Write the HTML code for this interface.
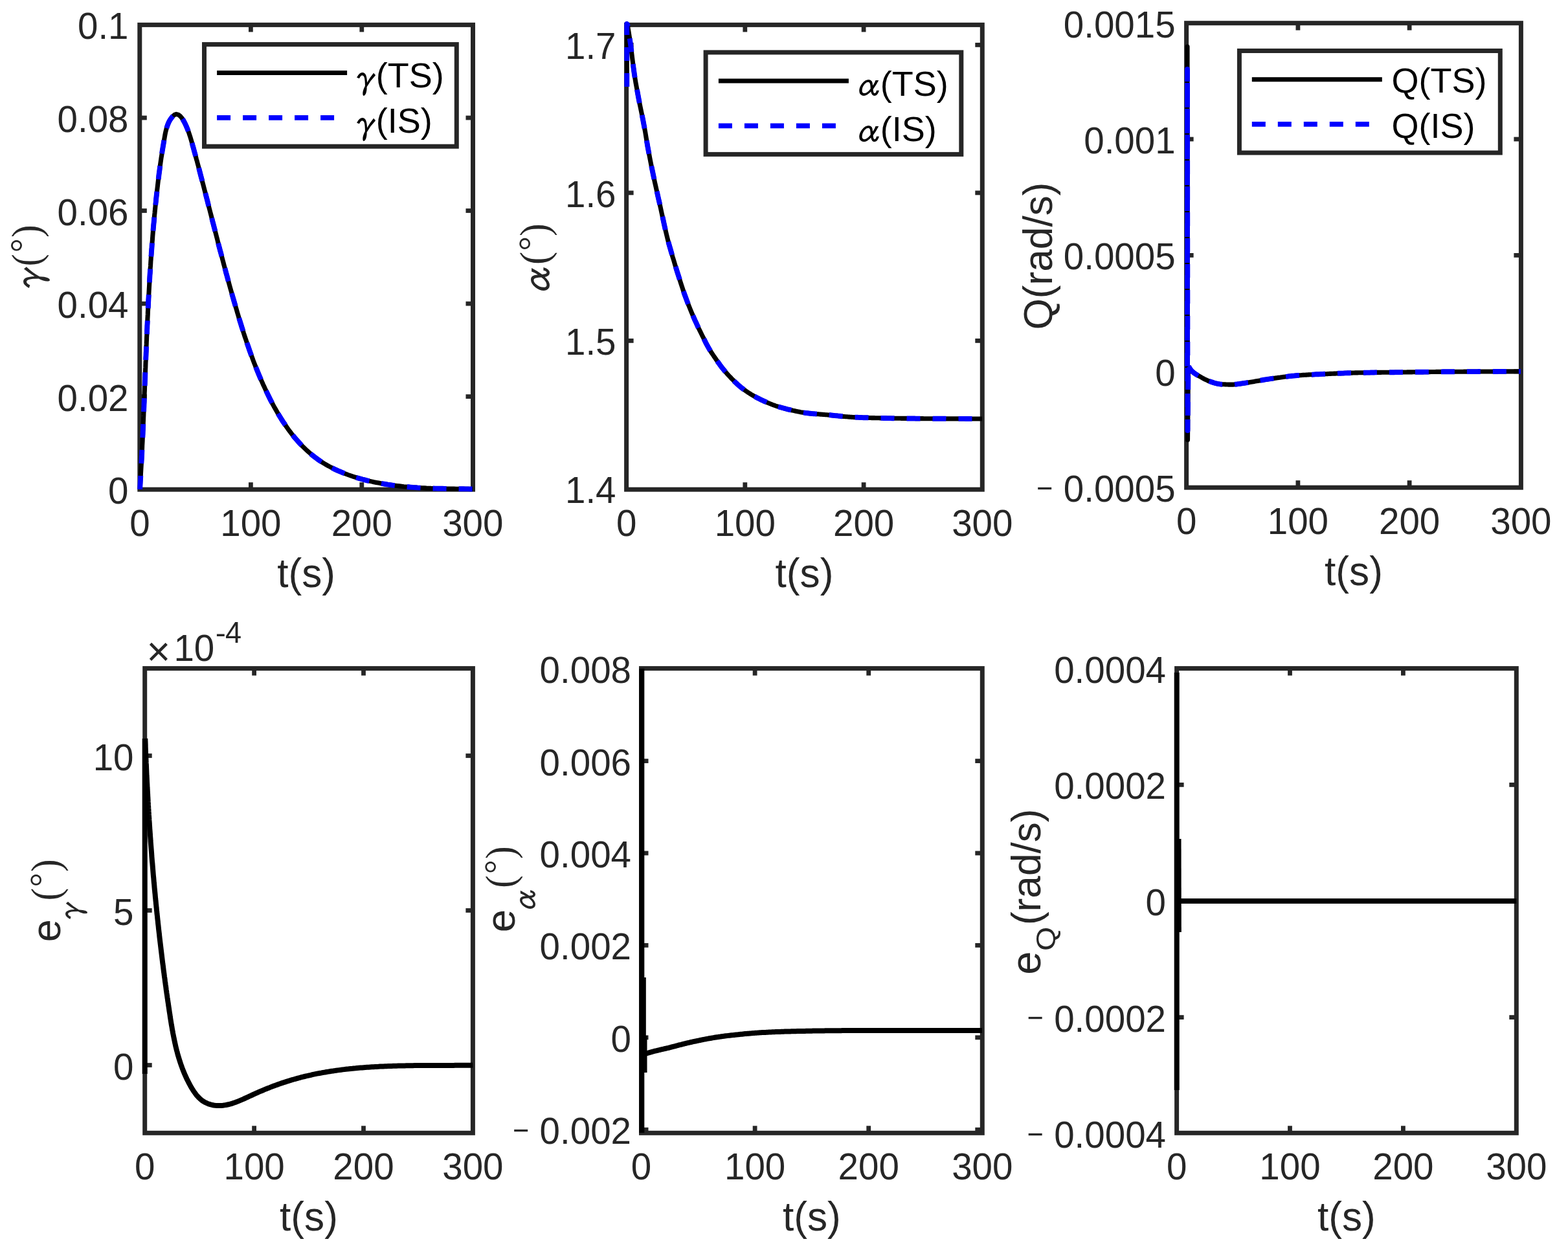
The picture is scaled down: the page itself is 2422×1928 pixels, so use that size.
<!DOCTYPE html>
<html><head><meta charset="utf-8"><title>Figure</title>
<style>html,body{margin:0;padding:0;background:#fff;}svg{display:block;}</style>
</head><body>
<svg xmlns="http://www.w3.org/2000/svg" width="2422" height="1928" viewBox="0 0 2422 1928">
<rect width="2422" height="1928" fill="#fff"/>
<rect x="215.8" y="38.4" width="514.7" height="717.8" fill="none" stroke="#262626" stroke-width="7.0"/>
<line x1="387.4" y1="756.2" x2="387.4" y2="745.2" stroke="#262626" stroke-width="6.8"/>
<line x1="387.4" y1="38.4" x2="387.4" y2="49.4" stroke="#262626" stroke-width="6.8"/>
<line x1="558.8" y1="756.2" x2="558.8" y2="745.2" stroke="#262626" stroke-width="6.8"/>
<line x1="558.8" y1="38.4" x2="558.8" y2="49.4" stroke="#262626" stroke-width="6.8"/>
<line x1="215.8" y1="612.6" x2="226.8" y2="612.6" stroke="#262626" stroke-width="6.8"/>
<line x1="730.5" y1="612.6" x2="719.5" y2="612.6" stroke="#262626" stroke-width="6.8"/>
<line x1="215.8" y1="469.1" x2="226.8" y2="469.1" stroke="#262626" stroke-width="6.8"/>
<line x1="730.5" y1="469.1" x2="719.5" y2="469.1" stroke="#262626" stroke-width="6.8"/>
<line x1="215.8" y1="325.5" x2="226.8" y2="325.5" stroke="#262626" stroke-width="6.8"/>
<line x1="730.5" y1="325.5" x2="719.5" y2="325.5" stroke="#262626" stroke-width="6.8"/>
<line x1="215.8" y1="182.0" x2="226.8" y2="182.0" stroke="#262626" stroke-width="6.8"/>
<line x1="730.5" y1="182.0" x2="719.5" y2="182.0" stroke="#262626" stroke-width="6.8"/>
<text x="198.5" y="778.2" text-anchor="end" font-size="56.5" fill="#262626" font-family="'Liberation Sans', Arial, Helvetica, sans-serif">0</text>
<text x="198.5" y="634.6" text-anchor="end" font-size="56.5" fill="#262626" font-family="'Liberation Sans', Arial, Helvetica, sans-serif">0.02</text>
<text x="198.5" y="491.1" text-anchor="end" font-size="56.5" fill="#262626" font-family="'Liberation Sans', Arial, Helvetica, sans-serif">0.04</text>
<text x="198.5" y="347.5" text-anchor="end" font-size="56.5" fill="#262626" font-family="'Liberation Sans', Arial, Helvetica, sans-serif">0.06</text>
<text x="198.5" y="204.0" text-anchor="end" font-size="56.5" fill="#262626" font-family="'Liberation Sans', Arial, Helvetica, sans-serif">0.08</text>
<text x="198.5" y="60.4" text-anchor="end" font-size="56.5" fill="#262626" font-family="'Liberation Sans', Arial, Helvetica, sans-serif">0.1</text>
<text x="215.9" y="827.9" text-anchor="middle" font-size="56.5" fill="#262626" font-family="'Liberation Sans', Arial, Helvetica, sans-serif">0</text>
<text x="387.4" y="827.9" text-anchor="middle" font-size="56.5" fill="#262626" font-family="'Liberation Sans', Arial, Helvetica, sans-serif">100</text>
<text x="558.8" y="827.9" text-anchor="middle" font-size="56.5" fill="#262626" font-family="'Liberation Sans', Arial, Helvetica, sans-serif">200</text>
<text x="730.3" y="827.9" text-anchor="middle" font-size="56.5" fill="#262626" font-family="'Liberation Sans', Arial, Helvetica, sans-serif">300</text>
<text x="473.1" y="907.3" text-anchor="middle" font-size="62.2" fill="#262626" font-family="'Liberation Sans', Arial, Helvetica, sans-serif">t(s)</text>
<path d="M216.1,756.0 L216.3,752.4 L216.5,748.9 L216.7,745.3 L216.9,741.8 L217.1,738.2 L217.3,734.7 L217.5,731.1 L217.7,727.6 L217.9,724.0 L218.1,720.5 L218.3,716.9 L218.5,713.3 L218.7,709.8 L218.9,706.2 L219.1,702.7 L219.2,699.1 L219.4,695.6 L219.6,692.0 L219.7,688.4 L219.9,684.9 L220.1,681.3 L220.2,677.8 L220.4,674.2 L220.6,670.7 L220.7,667.1 L220.9,663.5 L221.0,660.0 L221.2,656.4 L221.3,652.9 L221.5,649.3 L221.6,645.7 L221.8,642.2 L221.9,638.6 L222.1,635.0 L222.2,631.5 L222.4,627.9 L222.5,624.4 L222.7,620.8 L222.8,617.2 L222.9,613.7 L223.1,610.1 L223.2,606.6 L223.4,603.0 L223.5,599.4 L223.6,595.9 L223.8,592.3 L223.9,588.7 L224.1,585.2 L224.2,581.6 L224.3,578.0 L224.5,574.5 L224.6,570.9 L224.8,567.4 L224.9,563.8 L225.0,560.2 L225.2,556.7 L225.3,553.1 L225.5,549.5 L225.6,546.0 L225.8,542.4 L225.9,538.9 L226.0,535.3 L226.2,531.7 L226.3,528.2 L226.5,524.6 L226.6,521.0 L226.8,517.5 L227.0,513.9 L227.1,510.4 L227.3,506.8 L227.4,503.2 L227.6,499.7 L227.8,496.1 L227.9,492.6 L228.1,489.0 L228.3,485.4 L228.4,481.9 L228.6,478.3 L228.8,474.7 L229.0,471.2 L229.1,467.6 L229.3,464.1 L229.5,460.5 L229.7,457.0 L229.9,453.4 L230.1,449.8 L230.3,446.3 L230.5,442.7 L230.7,439.2 L230.9,435.6 L231.1,432.1 L231.3,428.5 L231.5,424.9 L231.8,421.4 L232.0,417.8 L232.2,414.3 L232.5,410.7 L232.7,407.2 L232.9,403.6 L233.2,400.1 L233.4,396.5 L233.7,393.0 L233.9,389.4 L234.2,385.9 L234.5,382.3 L234.7,378.8 L235.0,375.2 L235.3,371.7 L235.6,368.1 L235.8,364.6 L236.1,361.0 L236.4,357.5 L236.7,353.9 L237.0,350.4 L237.3,346.8 L237.7,343.3 L238.0,339.7 L238.3,336.2 L238.6,332.6 L239.0,329.1 L239.3,325.6 L239.7,322.0 L240.0,318.5 L240.4,314.9 L240.8,311.4 L241.1,307.9 L241.5,304.3 L241.9,300.8 L242.3,297.3 L242.7,293.7 L243.1,290.2 L243.5,286.6 L243.9,283.1 L244.3,279.6 L244.8,276.0 L245.2,272.5 L245.6,269.0 L246.1,265.4 L246.6,261.9 L247.0,258.4 L247.5,254.8 L248.0,251.3 L248.5,247.8 L249.0,244.2 L249.6,240.7 L250.1,237.2 L250.6,233.6 L251.2,230.1 L251.8,226.5 L252.4,223.0 L253.0,219.4 L253.6,215.9 L254.2,212.3 L254.8,208.8 L255.5,205.3 L256.3,201.8 L257.2,198.3 L258.3,194.9 L259.5,191.6 L260.9,188.4 L262.6,185.3 L264.6,182.4 L266.9,179.6 L269.5,177.4 L272.3,176.4 L275.3,177.1 L278.1,179.2 L280.6,181.9 L282.7,185.0 L284.5,188.2 L286.2,191.6 L287.7,194.9 L289.1,198.2 L290.4,201.6 L291.7,205.0 L292.8,208.4 L293.9,211.7 L294.9,215.1 L295.9,218.6 L296.9,222.0 L297.8,225.4 L298.8,228.8 L299.7,232.2 L300.6,235.6 L301.6,239.1 L302.5,242.5 L303.4,245.9 L304.4,249.3 L305.3,252.8 L306.2,256.2 L307.1,259.6 L308.0,263.1 L308.9,266.5 L309.8,269.9 L310.7,273.4 L311.6,276.8 L312.5,280.3 L313.4,283.7 L314.3,287.2 L315.2,290.6 L316.1,294.1 L317.0,297.5 L317.9,300.9 L318.8,304.4 L319.7,307.8 L320.6,311.3 L321.4,314.7 L322.3,318.2 L323.2,321.7 L324.1,325.1 L325.0,328.6 L325.9,332.0 L326.8,335.5 L327.6,338.9 L328.5,342.4 L329.4,345.8 L330.3,349.3 L331.2,352.7 L332.1,356.2 L333.0,359.7 L333.9,363.1 L334.8,366.6 L335.7,370.0 L336.5,373.5 L337.4,376.9 L338.3,380.4 L339.2,383.8 L340.1,387.3 L341.1,390.7 L342.0,394.2 L342.9,397.6 L343.8,401.1 L344.7,404.5 L345.6,408.0 L346.5,411.4 L347.5,414.9 L348.4,418.3 L349.3,421.8 L350.3,425.2 L351.2,428.6 L352.1,432.1 L353.1,435.5 L354.0,438.9 L355.0,442.4 L355.9,445.8 L356.9,449.2 L357.9,452.7 L358.8,456.1 L359.8,459.5 L360.8,462.9 L361.8,466.4 L362.8,469.8 L363.8,473.2 L364.8,476.6 L365.8,480.0 L366.8,483.4 L367.8,486.8 L368.8,490.2 L369.9,493.7 L370.9,497.1 L372.0,500.4 L373.0,503.8 L374.1,507.2 L375.2,510.6 L376.2,514.0 L377.3,517.4 L378.4,520.8 L379.6,524.1 L380.7,527.5 L381.8,530.9 L383.0,534.2 L384.2,537.6 L385.3,540.9 L386.5,544.3 L387.7,547.6 L389.0,551.0 L390.2,554.3 L391.4,557.6 L392.7,561.0 L394.0,564.3 L395.3,567.6 L396.6,570.9 L398.0,574.2 L399.3,577.5 L400.7,580.8 L402.1,584.1 L403.5,587.3 L405.0,590.6 L406.4,593.9 L407.9,597.1 L409.4,600.4 L410.9,603.6 L412.5,606.9 L414.0,610.1 L415.6,613.3 L417.2,616.6 L418.9,619.8 L420.5,623.0 L422.2,626.1 L423.9,629.3 L425.7,632.4 L427.5,635.6 L429.3,638.7 L431.1,641.7 L433.0,644.8 L434.9,647.8 L436.8,650.9 L438.8,653.8 L440.8,656.8 L442.8,659.7 L444.8,662.6 L446.9,665.5 L449.1,668.3 L451.2,671.1 L453.4,673.9 L455.7,676.6 L458.0,679.3 L460.3,681.9 L462.7,684.5 L465.1,687.1 L467.5,689.6 L470.0,692.1 L472.5,694.5 L475.1,696.9 L477.7,699.2 L480.3,701.4 L483.1,703.7 L485.8,705.8 L488.6,707.9 L491.4,710.0 L494.3,712.0 L497.3,713.9 L500.2,715.8 L503.3,717.6 L506.3,719.3 L509.4,721.0 L512.6,722.7 L515.8,724.3 L519.0,725.8 L522.3,727.3 L525.6,728.7 L528.9,730.1 L532.2,731.5 L535.6,732.7 L539.0,734.0 L542.4,735.2 L545.9,736.3 L549.3,737.4 L552.8,738.5 L556.3,739.5 L559.8,740.5 L563.4,741.4 L566.9,742.3 L570.5,743.1 L574.0,743.9 L577.6,744.7 L581.2,745.4 L584.8,746.1 L588.3,746.8 L591.9,747.4 L595.5,748.0 L599.1,748.6 L602.6,749.1 L606.2,749.6 L609.7,750.1 L613.3,750.5 L616.8,750.9 L620.3,751.3 L623.8,751.7 L627.3,752.0 L630.8,752.3 L634.3,752.6 L637.8,752.9 L641.3,753.1 L644.8,753.4 L648.3,753.6 L651.8,753.8 L655.3,753.9 L658.7,754.1 L662.2,754.2 L665.7,754.4 L669.2,754.5 L672.7,754.6 L676.2,754.7 L679.7,754.8 L683.3,754.8 L686.8,754.9 L690.3,755.0 L693.9,755.0 L697.5,755.1 L701.0,755.1 L704.6,755.2 L708.2,755.2 L711.8,755.3 L715.5,755.3 L719.1,755.4 L722.8,755.4 L726.5,755.5 L730.2,755.5" fill="none" stroke="#000" stroke-width="7.1" stroke-linejoin="round"/>
<path d="M216.1,756.0 L216.3,752.4 L216.5,748.9 L216.7,745.3 L216.9,741.8 L217.1,738.2 L217.3,734.7 L217.5,731.1 L217.7,727.6 L217.9,724.0 L218.1,720.5 L218.3,716.9 L218.5,713.3 L218.7,709.8 L218.9,706.2 L219.1,702.7 L219.2,699.1 L219.4,695.6 L219.6,692.0 L219.7,688.4 L219.9,684.9 L220.1,681.3 L220.2,677.8 L220.4,674.2 L220.6,670.7 L220.7,667.1 L220.9,663.5 L221.0,660.0 L221.2,656.4 L221.3,652.9 L221.5,649.3 L221.6,645.7 L221.8,642.2 L221.9,638.6 L222.1,635.0 L222.2,631.5 L222.4,627.9 L222.5,624.4 L222.7,620.8 L222.8,617.2 L222.9,613.7 L223.1,610.1 L223.2,606.6 L223.4,603.0 L223.5,599.4 L223.6,595.9 L223.8,592.3 L223.9,588.7 L224.1,585.2 L224.2,581.6 L224.3,578.0 L224.5,574.5 L224.6,570.9 L224.8,567.4 L224.9,563.8 L225.0,560.2 L225.2,556.7 L225.3,553.1 L225.5,549.5 L225.6,546.0 L225.8,542.4 L225.9,538.9 L226.0,535.3 L226.2,531.7 L226.3,528.2 L226.5,524.6 L226.6,521.0 L226.8,517.5 L227.0,513.9 L227.1,510.4 L227.3,506.8 L227.4,503.2 L227.6,499.7 L227.8,496.1 L227.9,492.6 L228.1,489.0 L228.3,485.4 L228.4,481.9 L228.6,478.3 L228.8,474.7 L229.0,471.2 L229.1,467.6 L229.3,464.1 L229.5,460.5 L229.7,457.0 L229.9,453.4 L230.1,449.8 L230.3,446.3 L230.5,442.7 L230.7,439.2 L230.9,435.6 L231.1,432.1 L231.3,428.5 L231.5,424.9 L231.8,421.4 L232.0,417.8 L232.2,414.3 L232.5,410.7 L232.7,407.2 L232.9,403.6 L233.2,400.1 L233.4,396.5 L233.7,393.0 L233.9,389.4 L234.2,385.9 L234.5,382.3 L234.7,378.8 L235.0,375.2 L235.3,371.7 L235.6,368.1 L235.8,364.6 L236.1,361.0 L236.4,357.5 L236.7,353.9 L237.0,350.4 L237.3,346.8 L237.7,343.3 L238.0,339.7 L238.3,336.2 L238.6,332.6 L239.0,329.1 L239.3,325.6 L239.7,322.0 L240.0,318.5 L240.4,314.9 L240.8,311.4 L241.1,307.9 L241.5,304.3 L241.9,300.8 L242.3,297.3 L242.7,293.7 L243.1,290.2 L243.5,286.6 L243.9,283.1 L244.3,279.6 L244.8,276.0 L245.2,272.5 L245.6,269.0 L246.1,265.4 L246.6,261.9 L247.0,258.4 L247.5,254.8 L248.0,251.3 L248.5,247.8 L249.0,244.2 L249.6,240.7 L250.1,237.2 L250.6,233.6 L251.2,230.1 L251.8,226.5 L252.4,223.0 L253.0,219.4 L253.6,215.9 L254.2,212.3 L254.8,208.8 L255.5,205.3 L256.3,201.8 L257.2,198.3 L258.3,194.9 L259.5,191.6 L260.9,188.4 L262.6,185.3 L264.6,182.4 L266.9,179.6 L269.5,177.4 L272.3,176.4 L275.3,177.1 L278.1,179.2 L280.6,181.9 L282.7,185.0 L284.5,188.2 L286.2,191.6 L287.7,194.9 L289.1,198.2 L290.4,201.6 L291.7,205.0 L292.8,208.4 L293.9,211.7 L294.9,215.1 L295.9,218.6 L296.9,222.0 L297.8,225.4 L298.8,228.8 L299.7,232.2 L300.6,235.6 L301.6,239.1 L302.5,242.5 L303.4,245.9 L304.4,249.3 L305.3,252.8 L306.2,256.2 L307.1,259.6 L308.0,263.1 L308.9,266.5 L309.8,269.9 L310.7,273.4 L311.6,276.8 L312.5,280.3 L313.4,283.7 L314.3,287.2 L315.2,290.6 L316.1,294.1 L317.0,297.5 L317.9,300.9 L318.8,304.4 L319.7,307.8 L320.6,311.3 L321.4,314.7 L322.3,318.2 L323.2,321.7 L324.1,325.1 L325.0,328.6 L325.9,332.0 L326.8,335.5 L327.6,338.9 L328.5,342.4 L329.4,345.8 L330.3,349.3 L331.2,352.7 L332.1,356.2 L333.0,359.7 L333.9,363.1 L334.8,366.6 L335.7,370.0 L336.5,373.5 L337.4,376.9 L338.3,380.4 L339.2,383.8 L340.1,387.3 L341.1,390.7 L342.0,394.2 L342.9,397.6 L343.8,401.1 L344.7,404.5 L345.6,408.0 L346.5,411.4 L347.5,414.9 L348.4,418.3 L349.3,421.8 L350.3,425.2 L351.2,428.6 L352.1,432.1 L353.1,435.5 L354.0,438.9 L355.0,442.4 L355.9,445.8 L356.9,449.2 L357.9,452.7 L358.8,456.1 L359.8,459.5 L360.8,462.9 L361.8,466.4 L362.8,469.8 L363.8,473.2 L364.8,476.6 L365.8,480.0 L366.8,483.4 L367.8,486.8 L368.8,490.2 L369.9,493.7 L370.9,497.1 L372.0,500.4 L373.0,503.8 L374.1,507.2 L375.2,510.6 L376.2,514.0 L377.3,517.4 L378.4,520.8 L379.6,524.1 L380.7,527.5 L381.8,530.9 L383.0,534.2 L384.2,537.6 L385.3,540.9 L386.5,544.3 L387.7,547.6 L389.0,551.0 L390.2,554.3 L391.4,557.6 L392.7,561.0 L394.0,564.3 L395.3,567.6 L396.6,570.9 L398.0,574.2 L399.3,577.5 L400.7,580.8 L402.1,584.1 L403.5,587.3 L405.0,590.6 L406.4,593.9 L407.9,597.1 L409.4,600.4 L410.9,603.6 L412.5,606.9 L414.0,610.1 L415.6,613.3 L417.2,616.6 L418.9,619.8 L420.5,623.0 L422.2,626.1 L423.9,629.3 L425.7,632.4 L427.5,635.6 L429.3,638.7 L431.1,641.7 L433.0,644.8 L434.9,647.8 L436.8,650.9 L438.8,653.8 L440.8,656.8 L442.8,659.7 L444.8,662.6 L446.9,665.5 L449.1,668.3 L451.2,671.1 L453.4,673.9 L455.7,676.6 L458.0,679.3 L460.3,681.9 L462.7,684.5 L465.1,687.1 L467.5,689.6 L470.0,692.1 L472.5,694.5 L475.1,696.9 L477.7,699.2 L480.3,701.4 L483.1,703.7 L485.8,705.8 L488.6,707.9 L491.4,710.0 L494.3,712.0 L497.3,713.9 L500.2,715.8 L503.3,717.6 L506.3,719.3 L509.4,721.0 L512.6,722.7 L515.8,724.3 L519.0,725.8 L522.3,727.3 L525.6,728.7 L528.9,730.1 L532.2,731.5 L535.6,732.7 L539.0,734.0 L542.4,735.2 L545.9,736.3 L549.3,737.4 L552.8,738.5 L556.3,739.5 L559.8,740.5 L563.4,741.4 L566.9,742.3 L570.5,743.1 L574.0,743.9 L577.6,744.7 L581.2,745.4 L584.8,746.1 L588.3,746.8 L591.9,747.4 L595.5,748.0 L599.1,748.6 L602.6,749.1 L606.2,749.6 L609.7,750.1 L613.3,750.5 L616.8,750.9 L620.3,751.3 L623.8,751.7 L627.3,752.0 L630.8,752.3 L634.3,752.6 L637.8,752.9 L641.3,753.1 L644.8,753.4 L648.3,753.6 L651.8,753.8 L655.3,753.9 L658.7,754.1 L662.2,754.2 L665.7,754.4 L669.2,754.5 L672.7,754.6 L676.2,754.7 L679.7,754.8 L683.3,754.8 L686.8,754.9 L690.3,755.0 L693.9,755.0 L697.5,755.1 L701.0,755.1 L704.6,755.2 L708.2,755.2 L711.8,755.3 L715.5,755.3 L719.1,755.4 L722.8,755.4 L726.5,755.5 L730.2,755.5" fill="none" stroke="#00f" stroke-width="7.9" stroke-linejoin="round" stroke-dasharray="21 19"/>
<rect x="315.5" y="68.6" width="389.8" height="157.6" fill="#fff" stroke="#262626" stroke-width="7"/>
<line x1="335.1" y1="112.5" x2="536.1" y2="112.5" stroke="#000" stroke-width="7"/>
<line x1="335.1" y1="181.8" x2="516.1" y2="181.8" stroke="#00f" stroke-width="7.8" stroke-dasharray="21 19"/>
<text transform="translate(541.14,142.57) scale(0.8676,1)" font-size="56.27" fill="#000" font-family="IPAGothic, 'Liberation Serif', serif" font-style="normal">γ</text>
<text x="580.8" y="134.8" text-anchor="start" font-size="54.0" fill="#000" font-family="'Liberation Sans', Arial, Helvetica, sans-serif">(TS)</text>
<text transform="translate(541.14,212.57) scale(0.8676,1)" font-size="56.27" fill="#000" font-family="IPAGothic, 'Liberation Serif', serif" font-style="normal">γ</text>
<text x="580.8" y="205.0" text-anchor="start" font-size="54.0" fill="#000" font-family="'Liberation Sans', Arial, Helvetica, sans-serif">(IS)</text>
<text transform="rotate(-90) translate(-456.02,70.91) scale(0.8546,1)" font-size="64.42" fill="#262626" font-family="IPAGothic, 'Liberation Serif', serif" font-style="normal">γ</text>
<text transform="rotate(-90) translate(-411.18,62.36) scale(0.8808,1)" font-size="64.06" fill="#262626" font-family="'Liberation Serif', 'Times New Roman', serif" font-style="normal">(</text>
<text transform="rotate(-90) translate(-390.33,54.53) scale(0.9708,1)" font-size="56.44" fill="#262626" font-family="'Liberation Serif', 'Times New Roman', serif" font-style="normal">°</text>
<text transform="rotate(-90) translate(-366.86,62.36) scale(0.9051,1)" font-size="64.06" fill="#262626" font-family="'Liberation Serif', 'Times New Roman', serif" font-style="normal">)</text>
<rect x="967.6" y="38.4" width="549.7" height="717.8" fill="none" stroke="#262626" stroke-width="7.0"/>
<line x1="1150.8" y1="756.2" x2="1150.8" y2="745.2" stroke="#262626" stroke-width="6.8"/>
<line x1="1150.8" y1="38.4" x2="1150.8" y2="49.4" stroke="#262626" stroke-width="6.8"/>
<line x1="1334.1" y1="756.2" x2="1334.1" y2="745.2" stroke="#262626" stroke-width="6.8"/>
<line x1="1334.1" y1="38.4" x2="1334.1" y2="49.4" stroke="#262626" stroke-width="6.8"/>
<line x1="967.6" y1="526.4" x2="978.6" y2="526.4" stroke="#262626" stroke-width="6.8"/>
<line x1="1517.3" y1="526.4" x2="1506.3" y2="526.4" stroke="#262626" stroke-width="6.8"/>
<line x1="967.6" y1="297.9" x2="978.6" y2="297.9" stroke="#262626" stroke-width="6.8"/>
<line x1="1517.3" y1="297.9" x2="1506.3" y2="297.9" stroke="#262626" stroke-width="6.8"/>
<line x1="967.6" y1="69.4" x2="978.6" y2="69.4" stroke="#262626" stroke-width="6.8"/>
<line x1="1517.3" y1="69.4" x2="1506.3" y2="69.4" stroke="#262626" stroke-width="6.8"/>
<text x="951.5" y="776.9" text-anchor="end" font-size="56.5" fill="#262626" font-family="'Liberation Sans', Arial, Helvetica, sans-serif">1.4</text>
<text x="951.5" y="548.4" text-anchor="end" font-size="56.5" fill="#262626" font-family="'Liberation Sans', Arial, Helvetica, sans-serif">1.5</text>
<text x="951.5" y="319.9" text-anchor="end" font-size="56.5" fill="#262626" font-family="'Liberation Sans', Arial, Helvetica, sans-serif">1.6</text>
<text x="951.5" y="91.4" text-anchor="end" font-size="56.5" fill="#262626" font-family="'Liberation Sans', Arial, Helvetica, sans-serif">1.7</text>
<text x="967.6" y="827.9" text-anchor="middle" font-size="56.5" fill="#262626" font-family="'Liberation Sans', Arial, Helvetica, sans-serif">0</text>
<text x="1150.8" y="827.9" text-anchor="middle" font-size="56.5" fill="#262626" font-family="'Liberation Sans', Arial, Helvetica, sans-serif">100</text>
<text x="1334.1" y="827.9" text-anchor="middle" font-size="56.5" fill="#262626" font-family="'Liberation Sans', Arial, Helvetica, sans-serif">200</text>
<text x="1517.3" y="827.9" text-anchor="middle" font-size="56.5" fill="#262626" font-family="'Liberation Sans', Arial, Helvetica, sans-serif">300</text>
<text x="1242.5" y="907.3" text-anchor="middle" font-size="62.2" fill="#262626" font-family="'Liberation Sans', Arial, Helvetica, sans-serif">t(s)</text>
<path d="M968.3,134.0 L968.3,37.0 L969.2,38.0 L971.0,48.9 L972.9,60.8 L974.7,73.7 L976.5,88.7 L978.4,104.0 L980.2,116.8 L982.0,127.9 L983.9,138.2 L985.7,148.0 L987.5,157.6 L989.4,166.7 L991.2,175.5 L993.0,184.4 L994.8,193.9 L996.7,204.2 L998.5,215.1 L1000.3,225.8 L1002.2,235.9 L1004.0,245.4 L1005.8,254.7 L1007.7,263.6 L1009.5,272.4 L1011.3,280.9 L1013.2,289.3 L1015.0,297.4 L1016.8,305.5 L1018.7,313.6 L1020.5,321.8 L1022.3,330.2 L1024.2,338.6 L1026.0,347.0 L1027.8,355.1 L1029.7,363.0 L1031.5,370.4 L1033.3,377.2 L1035.2,383.6 L1037.0,389.9 L1038.8,396.2 L1040.7,402.3 L1042.5,408.4 L1044.3,414.3 L1046.1,420.2 L1048.0,426.0 L1049.8,431.7 L1051.6,437.4 L1053.5,443.1 L1055.3,448.7 L1057.1,454.0 L1059.0,459.1 L1060.8,464.0 L1062.6,468.8 L1064.5,473.5 L1066.3,478.0 L1068.1,482.4 L1070.0,486.8 L1071.8,491.0 L1073.6,495.1 L1075.5,499.1 L1077.3,503.1 L1079.1,507.0 L1081.0,510.8 L1082.8,514.5 L1084.6,518.2 L1086.5,521.9 L1088.3,525.6 L1090.1,529.3 L1092.0,532.8 L1093.8,536.1 L1095.6,539.3 L1097.4,542.3 L1099.3,545.2 L1101.1,547.9 L1102.9,550.6 L1104.8,553.3 L1106.6,556.0 L1108.4,558.6 L1110.3,561.2 L1112.1,563.7 L1113.9,566.2 L1115.8,568.6 L1117.6,570.9 L1119.4,573.1 L1121.3,575.3 L1123.1,577.4 L1124.9,579.4 L1126.8,581.4 L1128.6,583.3 L1130.4,585.2 L1132.3,587.1 L1134.1,588.9 L1135.9,590.6 L1137.8,592.4 L1139.6,594.1 L1141.4,595.7 L1143.3,597.3 L1145.1,598.8 L1146.9,600.2 L1148.7,601.6 L1150.6,602.9 L1152.4,604.2 L1154.2,605.4 L1156.1,606.7 L1157.9,607.8 L1159.7,609.0 L1161.6,610.1 L1163.4,611.1 L1165.2,612.2 L1167.1,613.2 L1168.9,614.2 L1170.7,615.1 L1172.6,616.1 L1174.4,617.0 L1176.2,617.9 L1178.1,618.7 L1179.9,619.6 L1181.7,620.4 L1183.6,621.2 L1185.4,622.0 L1187.2,622.7 L1189.1,623.5 L1190.9,624.2 L1192.7,625.0 L1194.5,625.7 L1196.4,626.3 L1198.2,627.0 L1200.0,627.6 L1201.9,628.2 L1203.7,628.7 L1205.5,629.3 L1207.4,629.8 L1209.2,630.3 L1211.0,630.8 L1212.9,631.3 L1214.7,631.8 L1216.5,632.3 L1218.4,632.7 L1220.2,633.1 L1222.0,633.5 L1223.9,634.0 L1225.7,634.4 L1227.5,634.8 L1229.4,635.2 L1231.2,635.6 L1233.0,635.9 L1234.9,636.3 L1236.7,636.7 L1238.5,637.0 L1240.4,637.3 L1242.2,637.6 L1244.0,637.9 L1245.8,638.1 L1247.7,638.3 L1249.5,638.5 L1251.3,638.7 L1253.2,638.9 L1255.0,639.1 L1256.8,639.2 L1258.7,639.4 L1260.5,639.5 L1262.3,639.7 L1264.2,639.8 L1266.0,640.0 L1267.8,640.1 L1269.7,640.2 L1271.5,640.4 L1273.3,640.5 L1275.2,640.7 L1277.0,640.8 L1278.8,641.0 L1280.7,641.1 L1282.5,641.3 L1284.3,641.5 L1286.2,641.7 L1288.0,641.9 L1289.8,642.1 L1291.7,642.2 L1293.5,642.4 L1295.3,642.6 L1297.1,642.8 L1299.0,643.0 L1300.8,643.2 L1302.6,643.4 L1304.5,643.5 L1306.3,643.7 L1308.1,643.8 L1310.0,644.0 L1311.8,644.1 L1313.6,644.3 L1315.5,644.4 L1317.3,644.5 L1319.1,644.6 L1321.0,644.6 L1322.8,644.7 L1324.6,644.8 L1326.5,644.9 L1328.3,645.0 L1330.1,645.0 L1332.0,645.1 L1333.8,645.2 L1335.6,645.2 L1337.5,645.3 L1339.3,645.3 L1341.1,645.4 L1342.9,645.5 L1344.8,645.5 L1346.6,645.6 L1348.4,645.6 L1350.3,645.6 L1352.1,645.7 L1353.9,645.7 L1355.8,645.8 L1357.6,645.8 L1359.4,645.9 L1361.3,645.9 L1363.1,645.9 L1364.9,646.0 L1366.8,646.0 L1368.6,646.0 L1370.4,646.1 L1372.3,646.1 L1374.1,646.1 L1375.9,646.1 L1377.8,646.2 L1379.6,646.2 L1381.4,646.2 L1383.3,646.3 L1385.1,646.3 L1386.9,646.3 L1388.8,646.3 L1390.6,646.3 L1392.4,646.4 L1394.2,646.4 L1396.1,646.4 L1397.9,646.4 L1399.7,646.4 L1401.6,646.5 L1403.4,646.5 L1405.2,646.5 L1407.1,646.5 L1408.9,646.5 L1410.7,646.5 L1412.6,646.5 L1414.4,646.6 L1416.2,646.6 L1418.1,646.6 L1419.9,646.6 L1421.7,646.6 L1423.6,646.6 L1425.4,646.6 L1427.2,646.7 L1429.1,646.7 L1430.9,646.7 L1432.7,646.7 L1434.6,646.7 L1436.4,646.7 L1438.2,646.7 L1440.1,646.7 L1441.9,646.8 L1443.7,646.8 L1445.5,646.8 L1447.4,646.8 L1449.2,646.8 L1451.0,646.8 L1452.9,646.8 L1454.7,646.8 L1456.5,646.8 L1458.4,646.8 L1460.2,646.8 L1462.0,646.9 L1463.9,646.9 L1465.7,646.9 L1467.5,646.9 L1469.4,646.9 L1471.2,646.9 L1473.0,646.9 L1474.9,646.9 L1476.7,646.9 L1478.5,646.9 L1480.4,646.9 L1482.2,646.9 L1484.0,646.9 L1485.9,646.9 L1487.7,646.9 L1489.5,646.9 L1491.4,647.0 L1493.2,647.0 L1495.0,647.0 L1496.8,647.0 L1498.7,647.0 L1500.5,647.0 L1502.3,647.0 L1504.2,647.0 L1506.0,647.0 L1507.8,647.0 L1509.7,647.0 L1511.5,647.0 L1513.3,647.0 L1515.2,647.0 L1517.0,647.0" fill="none" stroke="#000" stroke-width="7.1" stroke-linejoin="round"/>
<path d="M968.3,134.0 L968.3,37.0 L969.2,38.0 L971.0,48.9 L972.9,60.8 L974.7,73.7 L976.5,88.7 L978.4,104.0 L980.2,116.8 L982.0,127.9 L983.9,138.2 L985.7,148.0 L987.5,157.6 L989.4,166.7 L991.2,175.5 L993.0,184.4 L994.8,193.9 L996.7,204.2 L998.5,215.1 L1000.3,225.8 L1002.2,235.9 L1004.0,245.4 L1005.8,254.7 L1007.7,263.6 L1009.5,272.4 L1011.3,280.9 L1013.2,289.3 L1015.0,297.4 L1016.8,305.5 L1018.7,313.6 L1020.5,321.8 L1022.3,330.2 L1024.2,338.6 L1026.0,347.0 L1027.8,355.1 L1029.7,363.0 L1031.5,370.4 L1033.3,377.2 L1035.2,383.6 L1037.0,389.9 L1038.8,396.2 L1040.7,402.3 L1042.5,408.4 L1044.3,414.3 L1046.1,420.2 L1048.0,426.0 L1049.8,431.7 L1051.6,437.4 L1053.5,443.1 L1055.3,448.7 L1057.1,454.0 L1059.0,459.1 L1060.8,464.0 L1062.6,468.8 L1064.5,473.5 L1066.3,478.0 L1068.1,482.4 L1070.0,486.8 L1071.8,491.0 L1073.6,495.1 L1075.5,499.1 L1077.3,503.1 L1079.1,507.0 L1081.0,510.8 L1082.8,514.5 L1084.6,518.2 L1086.5,521.9 L1088.3,525.6 L1090.1,529.3 L1092.0,532.8 L1093.8,536.1 L1095.6,539.3 L1097.4,542.3 L1099.3,545.2 L1101.1,547.9 L1102.9,550.6 L1104.8,553.3 L1106.6,556.0 L1108.4,558.6 L1110.3,561.2 L1112.1,563.7 L1113.9,566.2 L1115.8,568.6 L1117.6,570.9 L1119.4,573.1 L1121.3,575.3 L1123.1,577.4 L1124.9,579.4 L1126.8,581.4 L1128.6,583.3 L1130.4,585.2 L1132.3,587.1 L1134.1,588.9 L1135.9,590.6 L1137.8,592.4 L1139.6,594.1 L1141.4,595.7 L1143.3,597.3 L1145.1,598.8 L1146.9,600.2 L1148.7,601.6 L1150.6,602.9 L1152.4,604.2 L1154.2,605.4 L1156.1,606.7 L1157.9,607.8 L1159.7,609.0 L1161.6,610.1 L1163.4,611.1 L1165.2,612.2 L1167.1,613.2 L1168.9,614.2 L1170.7,615.1 L1172.6,616.1 L1174.4,617.0 L1176.2,617.9 L1178.1,618.7 L1179.9,619.6 L1181.7,620.4 L1183.6,621.2 L1185.4,622.0 L1187.2,622.7 L1189.1,623.5 L1190.9,624.2 L1192.7,625.0 L1194.5,625.7 L1196.4,626.3 L1198.2,627.0 L1200.0,627.6 L1201.9,628.2 L1203.7,628.7 L1205.5,629.3 L1207.4,629.8 L1209.2,630.3 L1211.0,630.8 L1212.9,631.3 L1214.7,631.8 L1216.5,632.3 L1218.4,632.7 L1220.2,633.1 L1222.0,633.5 L1223.9,634.0 L1225.7,634.4 L1227.5,634.8 L1229.4,635.2 L1231.2,635.6 L1233.0,635.9 L1234.9,636.3 L1236.7,636.7 L1238.5,637.0 L1240.4,637.3 L1242.2,637.6 L1244.0,637.9 L1245.8,638.1 L1247.7,638.3 L1249.5,638.5 L1251.3,638.7 L1253.2,638.9 L1255.0,639.1 L1256.8,639.2 L1258.7,639.4 L1260.5,639.5 L1262.3,639.7 L1264.2,639.8 L1266.0,640.0 L1267.8,640.1 L1269.7,640.2 L1271.5,640.4 L1273.3,640.5 L1275.2,640.7 L1277.0,640.8 L1278.8,641.0 L1280.7,641.1 L1282.5,641.3 L1284.3,641.5 L1286.2,641.7 L1288.0,641.9 L1289.8,642.1 L1291.7,642.2 L1293.5,642.4 L1295.3,642.6 L1297.1,642.8 L1299.0,643.0 L1300.8,643.2 L1302.6,643.4 L1304.5,643.5 L1306.3,643.7 L1308.1,643.8 L1310.0,644.0 L1311.8,644.1 L1313.6,644.3 L1315.5,644.4 L1317.3,644.5 L1319.1,644.6 L1321.0,644.6 L1322.8,644.7 L1324.6,644.8 L1326.5,644.9 L1328.3,645.0 L1330.1,645.0 L1332.0,645.1 L1333.8,645.2 L1335.6,645.2 L1337.5,645.3 L1339.3,645.3 L1341.1,645.4 L1342.9,645.5 L1344.8,645.5 L1346.6,645.6 L1348.4,645.6 L1350.3,645.6 L1352.1,645.7 L1353.9,645.7 L1355.8,645.8 L1357.6,645.8 L1359.4,645.9 L1361.3,645.9 L1363.1,645.9 L1364.9,646.0 L1366.8,646.0 L1368.6,646.0 L1370.4,646.1 L1372.3,646.1 L1374.1,646.1 L1375.9,646.1 L1377.8,646.2 L1379.6,646.2 L1381.4,646.2 L1383.3,646.3 L1385.1,646.3 L1386.9,646.3 L1388.8,646.3 L1390.6,646.3 L1392.4,646.4 L1394.2,646.4 L1396.1,646.4 L1397.9,646.4 L1399.7,646.4 L1401.6,646.5 L1403.4,646.5 L1405.2,646.5 L1407.1,646.5 L1408.9,646.5 L1410.7,646.5 L1412.6,646.5 L1414.4,646.6 L1416.2,646.6 L1418.1,646.6 L1419.9,646.6 L1421.7,646.6 L1423.6,646.6 L1425.4,646.6 L1427.2,646.7 L1429.1,646.7 L1430.9,646.7 L1432.7,646.7 L1434.6,646.7 L1436.4,646.7 L1438.2,646.7 L1440.1,646.7 L1441.9,646.8 L1443.7,646.8 L1445.5,646.8 L1447.4,646.8 L1449.2,646.8 L1451.0,646.8 L1452.9,646.8 L1454.7,646.8 L1456.5,646.8 L1458.4,646.8 L1460.2,646.8 L1462.0,646.9 L1463.9,646.9 L1465.7,646.9 L1467.5,646.9 L1469.4,646.9 L1471.2,646.9 L1473.0,646.9 L1474.9,646.9 L1476.7,646.9 L1478.5,646.9 L1480.4,646.9 L1482.2,646.9 L1484.0,646.9 L1485.9,646.9 L1487.7,646.9 L1489.5,646.9 L1491.4,647.0 L1493.2,647.0 L1495.0,647.0 L1496.8,647.0 L1498.7,647.0 L1500.5,647.0 L1502.3,647.0 L1504.2,647.0 L1506.0,647.0 L1507.8,647.0 L1509.7,647.0 L1511.5,647.0 L1513.3,647.0 L1515.2,647.0 L1517.0,647.0" fill="none" stroke="#00f" stroke-width="7.9" stroke-linejoin="round" stroke-dasharray="21 19"/>
<rect x="1090.1" y="80.9" width="394.7" height="157.5" fill="#fff" stroke="#262626" stroke-width="7"/>
<line x1="1109.9" y1="125.0" x2="1310.9" y2="125.0" stroke="#000" stroke-width="7"/>
<line x1="1109.9" y1="194.3" x2="1290.9" y2="194.3" stroke="#00f" stroke-width="7.8" stroke-dasharray="21 19"/>
<text transform="translate(1317.38,150.40) scale(1.0338,1)" font-size="48.44" fill="#000" font-family="IPAGothic, 'Liberation Serif', serif" font-style="normal">α</text>
<text x="1359.7" y="147.9" text-anchor="start" font-size="54.0" fill="#000" font-family="'Liberation Sans', Arial, Helvetica, sans-serif">(TS)</text>
<text transform="translate(1317.38,220.40) scale(1.0380,1)" font-size="48.25" fill="#000" font-family="IPAGothic, 'Liberation Serif', serif" font-style="normal">α</text>
<text x="1359.7" y="217.8" text-anchor="start" font-size="54.0" fill="#000" font-family="'Liberation Sans', Arial, Helvetica, sans-serif">(IS)</text>
<text transform="rotate(-90) translate(-460.23,850.74) scale(1.0387,1)" font-size="56.23" fill="#262626" font-family="IPAGothic, 'Liberation Serif', serif" font-style="normal">α</text>
<text transform="rotate(-90) translate(-408.72,847.33) scale(0.9342,1)" font-size="63.73" fill="#262626" font-family="'Liberation Serif', 'Times New Roman', serif" font-style="normal">(</text>
<text transform="rotate(-90) translate(-387.82,838.63) scale(1.0361,1)" font-size="54.79" fill="#262626" font-family="'Liberation Serif', 'Times New Roman', serif" font-style="normal">°</text>
<text transform="rotate(-90) translate(-364.64,847.33) scale(0.9037,1)" font-size="63.73" fill="#262626" font-family="'Liberation Serif', 'Times New Roman', serif" font-style="normal">)</text>
<rect x="1832.6" y="35.7" width="516.8" height="717.5" fill="none" stroke="#262626" stroke-width="7.0"/>
<line x1="2004.9" y1="753.2" x2="2004.9" y2="742.2" stroke="#262626" stroke-width="6.8"/>
<line x1="2004.9" y1="35.7" x2="2004.9" y2="46.7" stroke="#262626" stroke-width="6.8"/>
<line x1="2177.1" y1="753.2" x2="2177.1" y2="742.2" stroke="#262626" stroke-width="6.8"/>
<line x1="2177.1" y1="35.7" x2="2177.1" y2="46.7" stroke="#262626" stroke-width="6.8"/>
<line x1="1832.6" y1="573.8" x2="1843.6" y2="573.8" stroke="#262626" stroke-width="6.8"/>
<line x1="2349.4" y1="573.8" x2="2338.4" y2="573.8" stroke="#262626" stroke-width="6.8"/>
<line x1="1832.6" y1="394.4" x2="1843.6" y2="394.4" stroke="#262626" stroke-width="6.8"/>
<line x1="2349.4" y1="394.4" x2="2338.4" y2="394.4" stroke="#262626" stroke-width="6.8"/>
<line x1="1832.6" y1="215.0" x2="1843.6" y2="215.0" stroke="#262626" stroke-width="6.8"/>
<line x1="2349.4" y1="215.0" x2="2338.4" y2="215.0" stroke="#262626" stroke-width="6.8"/>
<text x="1815.6" y="775.2" text-anchor="end" font-size="56.5" fill="#262626" font-family="'Liberation Sans', Arial, Helvetica, sans-serif">0.0005</text>
<text transform="translate(1601.07,769.85) scale(0.9297,1)" font-size="46.48" fill="#262626" font-family="'Liberation Sans', Arial, Helvetica, sans-serif" font-style="normal">−</text>
<text x="1815.6" y="595.8" text-anchor="end" font-size="56.5" fill="#262626" font-family="'Liberation Sans', Arial, Helvetica, sans-serif">0</text>
<text x="1815.6" y="416.4" text-anchor="end" font-size="56.5" fill="#262626" font-family="'Liberation Sans', Arial, Helvetica, sans-serif">0.0005</text>
<text x="1815.6" y="237.0" text-anchor="end" font-size="56.5" fill="#262626" font-family="'Liberation Sans', Arial, Helvetica, sans-serif">0.001</text>
<text x="1815.6" y="57.6" text-anchor="end" font-size="56.5" fill="#262626" font-family="'Liberation Sans', Arial, Helvetica, sans-serif">0.0015</text>
<text x="1832.6" y="824.9" text-anchor="middle" font-size="56.5" fill="#262626" font-family="'Liberation Sans', Arial, Helvetica, sans-serif">0</text>
<text x="2004.9" y="824.9" text-anchor="middle" font-size="56.5" fill="#262626" font-family="'Liberation Sans', Arial, Helvetica, sans-serif">100</text>
<text x="2177.1" y="824.9" text-anchor="middle" font-size="56.5" fill="#262626" font-family="'Liberation Sans', Arial, Helvetica, sans-serif">200</text>
<text x="2349.4" y="824.9" text-anchor="middle" font-size="56.5" fill="#262626" font-family="'Liberation Sans', Arial, Helvetica, sans-serif">300</text>
<text x="2091.0" y="904.3" text-anchor="middle" font-size="62.2" fill="#262626" font-family="'Liberation Sans', Arial, Helvetica, sans-serif">t(s)</text>
<path d="M1834.0,566.0 L1834.0,72.0 L1834.5,679.5 L1835.5,566.0" fill="none" stroke="#000" stroke-width="7.1" stroke-linejoin="round"/>
<path d="M1836.0,566.0 L1837.7,568.9 L1839.4,571.5 L1841.1,573.4 L1842.9,575.0 L1844.6,576.3 L1846.3,577.5 L1848.0,578.6 L1849.7,579.6 L1851.4,580.6 L1853.2,581.5 L1854.9,582.5 L1856.6,583.5 L1858.3,584.5 L1860.0,585.4 L1861.7,586.3 L1863.5,587.1 L1865.2,587.9 L1866.9,588.6 L1868.6,589.2 L1870.3,589.8 L1872.0,590.4 L1873.7,590.9 L1875.5,591.5 L1877.2,592.0 L1878.9,592.4 L1880.6,592.8 L1882.3,593.1 L1884.0,593.4 L1885.8,593.6 L1887.5,593.7 L1889.2,593.7 L1890.9,593.8 L1892.6,593.9 L1894.3,594.0 L1896.1,594.0 L1897.8,594.1 L1899.5,594.1 L1901.2,594.1 L1902.9,594.1 L1904.6,594.1 L1906.3,594.0 L1908.1,593.8 L1909.8,593.6 L1911.5,593.4 L1913.2,593.2 L1914.9,593.0 L1916.6,592.7 L1918.4,592.4 L1920.1,592.1 L1921.8,591.9 L1923.5,591.6 L1925.2,591.4 L1926.9,591.1 L1928.6,590.9 L1930.4,590.6 L1932.1,590.3 L1933.8,590.0 L1935.5,589.7 L1937.2,589.4 L1938.9,589.1 L1940.7,588.8 L1942.4,588.5 L1944.1,588.2 L1945.8,587.9 L1947.5,587.6 L1949.2,587.3 L1951.0,587.0 L1952.7,586.7 L1954.4,586.4 L1956.1,586.2 L1957.8,585.9 L1959.5,585.6 L1961.2,585.4 L1963.0,585.1 L1964.7,584.9 L1966.4,584.6 L1968.1,584.4 L1969.8,584.1 L1971.5,583.9 L1973.3,583.6 L1975.0,583.4 L1976.7,583.2 L1978.4,582.9 L1980.1,582.7 L1981.8,582.4 L1983.6,582.2 L1985.3,582.0 L1987.0,581.8 L1988.7,581.6 L1990.4,581.4 L1992.1,581.2 L1993.8,581.0 L1995.6,580.8 L1997.3,580.6 L1999.0,580.5 L2000.7,580.3 L2002.4,580.2 L2004.1,580.0 L2005.9,579.9 L2007.6,579.8 L2009.3,579.7 L2011.0,579.5 L2012.7,579.4 L2014.4,579.3 L2016.2,579.2 L2017.9,579.1 L2019.6,579.0 L2021.3,578.9 L2023.0,578.8 L2024.7,578.7 L2026.4,578.7 L2028.2,578.6 L2029.9,578.5 L2031.6,578.4 L2033.3,578.3 L2035.0,578.3 L2036.7,578.2 L2038.5,578.1 L2040.2,578.0 L2041.9,577.9 L2043.6,577.9 L2045.3,577.8 L2047.0,577.7 L2048.7,577.7 L2050.5,577.6 L2052.2,577.5 L2053.9,577.4 L2055.6,577.4 L2057.3,577.3 L2059.0,577.2 L2060.8,577.1 L2062.5,577.1 L2064.2,577.0 L2065.9,576.9 L2067.6,576.8 L2069.3,576.8 L2071.1,576.7 L2072.8,576.6 L2074.5,576.6 L2076.2,576.5 L2077.9,576.4 L2079.6,576.4 L2081.3,576.3 L2083.1,576.3 L2084.8,576.2 L2086.5,576.1 L2088.2,576.1 L2089.9,576.0 L2091.6,576.0 L2093.4,575.9 L2095.1,575.9 L2096.8,575.9 L2098.5,575.8 L2100.2,575.8 L2101.9,575.8 L2103.7,575.7 L2105.4,575.7 L2107.1,575.7 L2108.8,575.7 L2110.5,575.6 L2112.2,575.6 L2113.9,575.6 L2115.7,575.6 L2117.4,575.5 L2119.1,575.5 L2120.8,575.5 L2122.5,575.5 L2124.2,575.4 L2126.0,575.4 L2127.7,575.4 L2129.4,575.4 L2131.1,575.4 L2132.8,575.4 L2134.5,575.3 L2136.3,575.3 L2138.0,575.3 L2139.7,575.3 L2141.4,575.3 L2143.1,575.2 L2144.8,575.2 L2146.5,575.2 L2148.3,575.2 L2150.0,575.2 L2151.7,575.2 L2153.4,575.2 L2155.1,575.1 L2156.8,575.1 L2158.6,575.1 L2160.3,575.1 L2162.0,575.1 L2163.7,575.1 L2165.4,575.0 L2167.1,575.0 L2168.8,575.0 L2170.6,575.0 L2172.3,575.0 L2174.0,574.9 L2175.7,574.9 L2177.4,574.9 L2179.1,574.9 L2180.9,574.9 L2182.6,574.8 L2184.3,574.8 L2186.0,574.8 L2187.7,574.8 L2189.4,574.8 L2191.2,574.7 L2192.9,574.7 L2194.6,574.7 L2196.3,574.7 L2198.0,574.7 L2199.7,574.6 L2201.4,574.6 L2203.2,574.6 L2204.9,574.6 L2206.6,574.6 L2208.3,574.6 L2210.0,574.5 L2211.7,574.5 L2213.5,574.5 L2215.2,574.5 L2216.9,574.5 L2218.6,574.4 L2220.3,574.4 L2222.0,574.4 L2223.8,574.4 L2225.5,574.4 L2227.2,574.4 L2228.9,574.3 L2230.6,574.3 L2232.3,574.3 L2234.0,574.3 L2235.8,574.3 L2237.5,574.3 L2239.2,574.3 L2240.9,574.3 L2242.6,574.2 L2244.3,574.2 L2246.1,574.2 L2247.8,574.2 L2249.5,574.2 L2251.2,574.2 L2252.9,574.2 L2254.6,574.2 L2256.4,574.2 L2258.1,574.2 L2259.8,574.2 L2261.5,574.1 L2263.2,574.1 L2264.9,574.1 L2266.6,574.1 L2268.4,574.1 L2270.1,574.1 L2271.8,574.1 L2273.5,574.1 L2275.2,574.1 L2276.9,574.1 L2278.7,574.1 L2280.4,574.1 L2282.1,574.1 L2283.8,574.0 L2285.5,574.0 L2287.2,574.0 L2288.9,574.0 L2290.7,574.0 L2292.4,574.0 L2294.1,574.0 L2295.8,574.0 L2297.5,574.0 L2299.2,574.0 L2301.0,574.0 L2302.7,574.0 L2304.4,574.0 L2306.1,574.0 L2307.8,574.0 L2309.5,574.0 L2311.3,574.0 L2313.0,574.0 L2314.7,573.9 L2316.4,573.9 L2318.1,573.9 L2319.8,573.9 L2321.5,573.9 L2323.3,573.9 L2325.0,573.9 L2326.7,573.9 L2328.4,573.9 L2330.1,573.9 L2331.8,573.9 L2333.6,573.9 L2335.3,573.9 L2337.0,573.9 L2338.7,573.9 L2340.4,573.9 L2342.1,573.9 L2343.9,573.9 L2345.6,573.9 L2347.3,573.9 L2349.0,573.9" fill="none" stroke="#000" stroke-width="7.1" stroke-linejoin="round"/>
<path d="M1834.0,566.0 L1834.0,107.0 L1834.5,665.0 L1835.5,566.0" fill="none" stroke="#00f" stroke-width="7.9" stroke-linejoin="round" stroke-dasharray="21 19"/>
<path d="M1836.0,566.0 L1837.7,568.9 L1839.4,571.5 L1841.1,573.4 L1842.9,575.0 L1844.6,576.3 L1846.3,577.5 L1848.0,578.6 L1849.7,579.6 L1851.4,580.6 L1853.2,581.5 L1854.9,582.5 L1856.6,583.5 L1858.3,584.5 L1860.0,585.4 L1861.7,586.3 L1863.5,587.1 L1865.2,587.9 L1866.9,588.6 L1868.6,589.2 L1870.3,589.8 L1872.0,590.4 L1873.7,590.9 L1875.5,591.5 L1877.2,592.0 L1878.9,592.4 L1880.6,592.8 L1882.3,593.1 L1884.0,593.4 L1885.8,593.6 L1887.5,593.7 L1889.2,593.7 L1890.9,593.8 L1892.6,593.9 L1894.3,594.0 L1896.1,594.0 L1897.8,594.1 L1899.5,594.1 L1901.2,594.1 L1902.9,594.1 L1904.6,594.1 L1906.3,594.0 L1908.1,593.8 L1909.8,593.6 L1911.5,593.4 L1913.2,593.2 L1914.9,593.0 L1916.6,592.7 L1918.4,592.4 L1920.1,592.1 L1921.8,591.9 L1923.5,591.6 L1925.2,591.4 L1926.9,591.1 L1928.6,590.9 L1930.4,590.6 L1932.1,590.3 L1933.8,590.0 L1935.5,589.7 L1937.2,589.4 L1938.9,589.1 L1940.7,588.8 L1942.4,588.5 L1944.1,588.2 L1945.8,587.9 L1947.5,587.6 L1949.2,587.3 L1951.0,587.0 L1952.7,586.7 L1954.4,586.4 L1956.1,586.2 L1957.8,585.9 L1959.5,585.6 L1961.2,585.4 L1963.0,585.1 L1964.7,584.9 L1966.4,584.6 L1968.1,584.4 L1969.8,584.1 L1971.5,583.9 L1973.3,583.6 L1975.0,583.4 L1976.7,583.2 L1978.4,582.9 L1980.1,582.7 L1981.8,582.4 L1983.6,582.2 L1985.3,582.0 L1987.0,581.8 L1988.7,581.6 L1990.4,581.4 L1992.1,581.2 L1993.8,581.0 L1995.6,580.8 L1997.3,580.6 L1999.0,580.5 L2000.7,580.3 L2002.4,580.2 L2004.1,580.0 L2005.9,579.9 L2007.6,579.8 L2009.3,579.7 L2011.0,579.5 L2012.7,579.4 L2014.4,579.3 L2016.2,579.2 L2017.9,579.1 L2019.6,579.0 L2021.3,578.9 L2023.0,578.8 L2024.7,578.7 L2026.4,578.7 L2028.2,578.6 L2029.9,578.5 L2031.6,578.4 L2033.3,578.3 L2035.0,578.3 L2036.7,578.2 L2038.5,578.1 L2040.2,578.0 L2041.9,577.9 L2043.6,577.9 L2045.3,577.8 L2047.0,577.7 L2048.7,577.7 L2050.5,577.6 L2052.2,577.5 L2053.9,577.4 L2055.6,577.4 L2057.3,577.3 L2059.0,577.2 L2060.8,577.1 L2062.5,577.1 L2064.2,577.0 L2065.9,576.9 L2067.6,576.8 L2069.3,576.8 L2071.1,576.7 L2072.8,576.6 L2074.5,576.6 L2076.2,576.5 L2077.9,576.4 L2079.6,576.4 L2081.3,576.3 L2083.1,576.3 L2084.8,576.2 L2086.5,576.1 L2088.2,576.1 L2089.9,576.0 L2091.6,576.0 L2093.4,575.9 L2095.1,575.9 L2096.8,575.9 L2098.5,575.8 L2100.2,575.8 L2101.9,575.8 L2103.7,575.7 L2105.4,575.7 L2107.1,575.7 L2108.8,575.7 L2110.5,575.6 L2112.2,575.6 L2113.9,575.6 L2115.7,575.6 L2117.4,575.5 L2119.1,575.5 L2120.8,575.5 L2122.5,575.5 L2124.2,575.4 L2126.0,575.4 L2127.7,575.4 L2129.4,575.4 L2131.1,575.4 L2132.8,575.4 L2134.5,575.3 L2136.3,575.3 L2138.0,575.3 L2139.7,575.3 L2141.4,575.3 L2143.1,575.2 L2144.8,575.2 L2146.5,575.2 L2148.3,575.2 L2150.0,575.2 L2151.7,575.2 L2153.4,575.2 L2155.1,575.1 L2156.8,575.1 L2158.6,575.1 L2160.3,575.1 L2162.0,575.1 L2163.7,575.1 L2165.4,575.0 L2167.1,575.0 L2168.8,575.0 L2170.6,575.0 L2172.3,575.0 L2174.0,574.9 L2175.7,574.9 L2177.4,574.9 L2179.1,574.9 L2180.9,574.9 L2182.6,574.8 L2184.3,574.8 L2186.0,574.8 L2187.7,574.8 L2189.4,574.8 L2191.2,574.7 L2192.9,574.7 L2194.6,574.7 L2196.3,574.7 L2198.0,574.7 L2199.7,574.6 L2201.4,574.6 L2203.2,574.6 L2204.9,574.6 L2206.6,574.6 L2208.3,574.6 L2210.0,574.5 L2211.7,574.5 L2213.5,574.5 L2215.2,574.5 L2216.9,574.5 L2218.6,574.4 L2220.3,574.4 L2222.0,574.4 L2223.8,574.4 L2225.5,574.4 L2227.2,574.4 L2228.9,574.3 L2230.6,574.3 L2232.3,574.3 L2234.0,574.3 L2235.8,574.3 L2237.5,574.3 L2239.2,574.3 L2240.9,574.3 L2242.6,574.2 L2244.3,574.2 L2246.1,574.2 L2247.8,574.2 L2249.5,574.2 L2251.2,574.2 L2252.9,574.2 L2254.6,574.2 L2256.4,574.2 L2258.1,574.2 L2259.8,574.2 L2261.5,574.1 L2263.2,574.1 L2264.9,574.1 L2266.6,574.1 L2268.4,574.1 L2270.1,574.1 L2271.8,574.1 L2273.5,574.1 L2275.2,574.1 L2276.9,574.1 L2278.7,574.1 L2280.4,574.1 L2282.1,574.1 L2283.8,574.0 L2285.5,574.0 L2287.2,574.0 L2288.9,574.0 L2290.7,574.0 L2292.4,574.0 L2294.1,574.0 L2295.8,574.0 L2297.5,574.0 L2299.2,574.0 L2301.0,574.0 L2302.7,574.0 L2304.4,574.0 L2306.1,574.0 L2307.8,574.0 L2309.5,574.0 L2311.3,574.0 L2313.0,574.0 L2314.7,573.9 L2316.4,573.9 L2318.1,573.9 L2319.8,573.9 L2321.5,573.9 L2323.3,573.9 L2325.0,573.9 L2326.7,573.9 L2328.4,573.9 L2330.1,573.9 L2331.8,573.9 L2333.6,573.9 L2335.3,573.9 L2337.0,573.9 L2338.7,573.9 L2340.4,573.9 L2342.1,573.9 L2343.9,573.9 L2345.6,573.9 L2347.3,573.9 L2349.0,573.9" fill="none" stroke="#00f" stroke-width="7.9" stroke-linejoin="round" stroke-dasharray="21 19"/>
<rect x="1914.4" y="78.5" width="402.9" height="157.5" fill="#fff" stroke="#262626" stroke-width="7"/>
<line x1="1933.8" y1="122.7" x2="2134.8" y2="122.7" stroke="#000" stroke-width="7"/>
<line x1="1933.8" y1="191.9" x2="2114.8" y2="191.9" stroke="#00f" stroke-width="7.8" stroke-dasharray="21 19"/>
<text x="2149.6" y="142.9" text-anchor="start" font-size="54.0" fill="#000" font-family="'Liberation Sans', Arial, Helvetica, sans-serif">Q(TS)</text>
<text x="2149.6" y="212.8" text-anchor="start" font-size="54.0" fill="#000" font-family="'Liberation Sans', Arial, Helvetica, sans-serif">Q(IS)</text>
<text transform="translate(1624.8,509.5) rotate(-90)" font-size="62.2" fill="#262626" font-family="'Liberation Sans', Arial, Helvetica, sans-serif">Q(rad/s)</text>
<rect x="223.7" y="1032.6" width="506.7" height="717.7" fill="none" stroke="#262626" stroke-width="7.0"/>
<line x1="392.6" y1="1750.3" x2="392.6" y2="1739.3" stroke="#262626" stroke-width="6.8"/>
<line x1="392.6" y1="1032.6" x2="392.6" y2="1043.6" stroke="#262626" stroke-width="6.8"/>
<line x1="561.5" y1="1750.3" x2="561.5" y2="1739.3" stroke="#262626" stroke-width="6.8"/>
<line x1="561.5" y1="1032.6" x2="561.5" y2="1043.6" stroke="#262626" stroke-width="6.8"/>
<line x1="223.7" y1="1645.5" x2="234.7" y2="1645.5" stroke="#262626" stroke-width="6.8"/>
<line x1="730.4" y1="1645.5" x2="719.4" y2="1645.5" stroke="#262626" stroke-width="6.8"/>
<line x1="223.7" y1="1406.5" x2="234.7" y2="1406.5" stroke="#262626" stroke-width="6.8"/>
<line x1="730.4" y1="1406.5" x2="719.4" y2="1406.5" stroke="#262626" stroke-width="6.8"/>
<line x1="223.7" y1="1167.5" x2="234.7" y2="1167.5" stroke="#262626" stroke-width="6.8"/>
<line x1="730.4" y1="1167.5" x2="719.4" y2="1167.5" stroke="#262626" stroke-width="6.8"/>
<text x="206.5" y="1667.5" text-anchor="end" font-size="56.5" fill="#262626" font-family="'Liberation Sans', Arial, Helvetica, sans-serif">0</text>
<text x="206.5" y="1428.5" text-anchor="end" font-size="56.5" fill="#262626" font-family="'Liberation Sans', Arial, Helvetica, sans-serif">5</text>
<text x="206.5" y="1189.5" text-anchor="end" font-size="56.5" fill="#262626" font-family="'Liberation Sans', Arial, Helvetica, sans-serif">10</text>
<text x="223.7" y="1822.3" text-anchor="middle" font-size="56.5" fill="#262626" font-family="'Liberation Sans', Arial, Helvetica, sans-serif">0</text>
<text x="392.6" y="1822.3" text-anchor="middle" font-size="56.5" fill="#262626" font-family="'Liberation Sans', Arial, Helvetica, sans-serif">100</text>
<text x="561.5" y="1822.3" text-anchor="middle" font-size="56.5" fill="#262626" font-family="'Liberation Sans', Arial, Helvetica, sans-serif">200</text>
<text x="730.4" y="1822.3" text-anchor="middle" font-size="56.5" fill="#262626" font-family="'Liberation Sans', Arial, Helvetica, sans-serif">300</text>
<text x="477.0" y="1901.3" text-anchor="middle" font-size="62.2" fill="#262626" font-family="'Liberation Sans', Arial, Helvetica, sans-serif">t(s)</text>
<path d="M223.7,1659.0 L223.7,1141.0" fill="none" stroke="#000" stroke-width="8.0" stroke-linejoin="round"/>
<path d="M224.3,1140.9 L224.4,1143.5 L224.5,1146.0 L224.6,1148.5 L224.7,1151.0 L224.7,1153.5 L224.8,1156.0 L224.9,1158.6 L225.0,1161.1 L225.1,1163.6 L225.2,1166.1 L225.3,1168.6 L225.4,1171.1 L225.5,1173.7 L225.6,1176.2 L225.7,1178.7 L225.9,1181.2 L226.0,1183.7 L226.1,1186.2 L226.2,1188.7 L226.3,1191.3 L226.4,1193.8 L226.5,1196.3 L226.6,1198.8 L226.8,1201.3 L226.9,1203.8 L227.0,1206.3 L227.1,1208.8 L227.3,1211.4 L227.4,1213.9 L227.5,1216.4 L227.7,1218.9 L227.8,1221.4 L227.9,1223.9 L228.1,1226.4 L228.2,1228.9 L228.3,1231.4 L228.5,1234.0 L228.6,1236.5 L228.7,1239.0 L228.9,1241.5 L229.0,1244.0 L229.2,1246.5 L229.3,1249.0 L229.5,1251.5 L229.6,1254.0 L229.8,1256.5 L229.9,1259.0 L230.1,1261.5 L230.3,1264.0 L230.4,1266.5 L230.6,1269.1 L230.7,1271.6 L230.9,1274.1 L231.1,1276.6 L231.2,1279.1 L231.4,1281.6 L231.6,1284.1 L231.8,1286.6 L231.9,1289.1 L232.1,1291.6 L232.3,1294.1 L232.5,1296.6 L232.6,1299.1 L232.8,1301.6 L233.0,1304.1 L233.2,1306.6 L233.4,1309.1 L233.6,1311.6 L233.8,1314.1 L234.0,1316.6 L234.2,1319.1 L234.3,1321.6 L234.5,1324.1 L234.7,1326.6 L234.9,1329.1 L235.1,1331.6 L235.4,1334.1 L235.6,1336.6 L235.8,1339.1 L236.0,1341.6 L236.2,1344.1 L236.4,1346.6 L236.6,1349.1 L236.8,1351.6 L237.0,1354.1 L237.3,1356.6 L237.5,1359.1 L237.7,1361.6 L237.9,1364.1 L238.2,1366.6 L238.4,1369.1 L238.6,1371.6 L238.8,1374.1 L239.1,1376.6 L239.3,1379.1 L239.6,1381.6 L239.8,1384.1 L240.0,1386.6 L240.3,1389.1 L240.5,1391.6 L240.8,1394.1 L241.0,1396.6 L241.3,1399.1 L241.5,1401.6 L241.8,1404.1 L242.0,1406.6 L242.3,1409.1 L242.5,1411.6 L242.8,1414.1 L243.1,1416.6 L243.3,1419.1 L243.6,1421.6 L243.9,1424.0 L244.1,1426.5 L244.4,1429.0 L244.7,1431.5 L244.9,1434.0 L245.2,1436.5 L245.5,1439.0 L245.8,1441.5 L246.1,1444.0 L246.3,1446.5 L246.6,1449.0 L246.9,1451.5 L247.2,1454.0 L247.5,1456.5 L247.8,1459.0 L248.1,1461.5 L248.4,1464.0 L248.7,1466.5 L249.0,1469.0 L249.3,1471.4 L249.6,1473.9 L249.9,1476.4 L250.2,1478.9 L250.5,1481.4 L250.8,1483.9 L251.1,1486.4 L251.4,1488.9 L251.8,1491.4 L252.1,1493.9 L252.4,1496.4 L252.7,1498.9 L253.0,1501.4 L253.4,1503.9 L253.7,1506.4 L254.0,1508.8 L254.4,1511.3 L254.7,1513.8 L255.0,1516.3 L255.4,1518.8 L255.7,1521.3 L256.1,1523.8 L256.4,1526.3 L256.7,1528.8 L257.1,1531.3 L257.4,1533.8 L257.8,1536.3 L258.2,1538.8 L258.5,1541.3 L258.9,1543.7 L259.2,1546.2 L259.6,1548.7 L260.0,1551.2 L260.3,1553.7 L260.7,1556.2 L261.1,1558.7 L261.4,1561.2 L261.8,1563.7 L262.2,1566.2 L262.6,1568.7 L262.9,1571.2 L263.3,1573.7 L263.7,1576.2 L264.1,1578.6 L264.5,1581.1 L264.9,1583.6 L265.4,1586.1 L265.8,1588.6 L266.2,1591.1 L266.7,1593.5 L267.1,1596.0 L267.6,1598.5 L268.1,1601.0 L268.6,1603.4 L269.1,1605.9 L269.6,1608.3 L270.1,1610.8 L270.7,1613.2 L271.2,1615.7 L271.8,1618.1 L272.4,1620.6 L273.0,1623.0 L273.7,1625.4 L274.3,1627.8 L275.0,1630.3 L275.7,1632.7 L276.4,1635.1 L277.2,1637.5 L277.9,1639.8 L278.7,1642.2 L279.5,1644.6 L280.4,1647.0 L281.2,1649.3 L282.1,1651.7 L283.0,1654.0 L284.0,1656.4 L284.9,1658.7 L285.9,1661.0 L287.0,1663.3 L288.0,1665.6 L289.1,1667.9 L290.3,1670.2 L291.4,1672.4 L292.6,1674.7 L293.8,1676.9 L295.1,1679.2 L296.4,1681.4 L297.8,1683.6 L299.1,1685.7 L300.6,1687.8 L302.1,1689.9 L303.6,1691.9 L305.3,1693.7 L306.9,1695.5 L308.7,1697.2 L310.5,1698.8 L312.4,1700.3 L314.4,1701.6 L316.5,1702.9 L318.7,1703.9 L320.9,1704.9 L323.1,1705.7 L325.4,1706.4 L327.7,1707.0 L330.1,1707.5 L332.4,1707.8 L334.8,1708.0 L337.2,1708.1 L339.6,1708.1 L342.0,1708.0 L344.4,1707.8 L346.8,1707.4 L349.2,1707.0 L351.6,1706.5 L354.0,1706.0 L356.4,1705.3 L358.8,1704.6 L361.2,1703.8 L363.6,1703.0 L366.0,1702.1 L368.4,1701.1 L370.8,1700.1 L373.1,1699.1 L375.5,1698.1 L377.9,1697.0 L380.3,1695.9 L382.7,1694.8 L385.1,1693.7 L387.5,1692.6 L389.9,1691.5 L392.2,1690.4 L394.6,1689.3 L397.0,1688.3 L399.4,1687.2 L401.7,1686.2 L404.1,1685.2 L406.5,1684.2 L408.8,1683.2 L411.2,1682.2 L413.5,1681.3 L415.9,1680.4 L418.3,1679.4 L420.6,1678.5 L423.0,1677.6 L425.3,1676.8 L427.7,1675.9 L430.0,1675.1 L432.4,1674.2 L434.8,1673.4 L437.1,1672.6 L439.5,1671.9 L441.9,1671.1 L444.2,1670.3 L446.6,1669.6 L449.0,1668.9 L451.3,1668.2 L453.7,1667.5 L456.1,1666.8 L458.5,1666.1 L460.9,1665.5 L463.3,1664.8 L465.6,1664.2 L468.0,1663.6 L470.5,1663.0 L472.9,1662.4 L475.3,1661.9 L477.7,1661.3 L480.1,1660.8 L482.5,1660.2 L485.0,1659.7 L487.4,1659.2 L489.8,1658.7 L492.3,1658.2 L494.7,1657.8 L497.2,1657.3 L499.6,1656.9 L502.1,1656.5 L504.5,1656.0 L507.0,1655.6 L509.5,1655.2 L511.9,1654.8 L514.4,1654.5 L516.9,1654.1 L519.4,1653.7 L521.8,1653.4 L524.3,1653.1 L526.8,1652.8 L529.3,1652.4 L531.8,1652.1 L534.3,1651.8 L536.8,1651.6 L539.3,1651.3 L541.8,1651.0 L544.3,1650.8 L546.8,1650.5 L549.3,1650.3 L551.8,1650.0 L554.3,1649.8 L556.8,1649.6 L559.3,1649.4 L561.8,1649.2 L564.4,1649.0 L566.9,1648.8 L569.4,1648.7 L571.9,1648.5 L574.4,1648.3 L577.0,1648.2 L579.5,1648.0 L582.0,1647.9 L584.6,1647.8 L587.1,1647.6 L589.6,1647.5 L592.1,1647.4 L594.7,1647.3 L597.2,1647.2 L599.7,1647.1 L602.3,1647.0 L604.8,1646.9 L607.3,1646.8 L609.9,1646.7 L612.4,1646.7 L614.9,1646.6 L617.5,1646.5 L620.0,1646.5 L622.5,1646.4 L625.1,1646.4 L627.6,1646.3 L630.1,1646.3 L632.7,1646.2 L635.2,1646.2 L637.7,1646.2 L640.2,1646.1 L642.8,1646.1 L645.3,1646.1 L647.8,1646.1 L650.4,1646.0 L652.9,1646.0 L655.4,1646.0 L657.9,1646.0 L660.4,1646.0 L663.0,1646.0 L665.5,1645.9 L668.0,1645.9 L670.5,1645.9 L673.0,1645.9 L675.5,1645.9 L678.1,1645.9 L680.6,1645.9 L683.1,1645.9 L685.6,1645.9 L688.1,1645.9 L690.6,1645.9 L693.1,1645.9 L695.6,1645.9 L698.1,1645.9 L700.5,1645.9 L703.0,1645.8 L705.5,1645.8 L708.0,1645.8 L710.5,1645.8 L713.0,1645.8 L715.4,1645.8 L717.9,1645.8 L720.4,1645.7 L722.8,1645.7 L725.3,1645.7 L727.7,1645.7 L730.2,1645.6" fill="none" stroke="#000" stroke-width="8.0" stroke-linejoin="round"/>
<text transform="translate(226.60,1027.82) scale(1.0000,1)" font-size="62.92" fill="#262626" font-family="'Liberation Sans', Arial, Helvetica, sans-serif" font-style="normal">×</text>
<text x="268.4" y="1020.5" text-anchor="start" font-size="56.5" fill="#262626" font-family="'Liberation Sans', Arial, Helvetica, sans-serif">10</text>
<text transform="translate(332.86,992.59) scale(1.1143,1)" font-size="43.59" fill="#262626" font-family="'Liberation Sans', Arial, Helvetica, sans-serif" font-style="normal">-</text>
<text transform="translate(348.06,992.90) scale(0.9744,1)" font-size="46.22" fill="#262626" font-family="'Liberation Sans', Arial, Helvetica, sans-serif" font-style="normal">4</text>
<text transform="rotate(-90) translate(-1455.35,93.26) scale(0.9917,1)" font-size="63.50" fill="#262626" font-family="'Liberation Sans', Arial, Helvetica, sans-serif" font-style="normal">e</text>
<text transform="rotate(-90) translate(-1429.05,130.06) scale(0.8523,1)" font-size="53.13" fill="#262626" font-family="IPAGothic, 'Liberation Serif', serif" font-style="normal">γ</text>
<text transform="rotate(-90) translate(-1391.35,92.36) scale(0.9051,1)" font-size="64.06" fill="#262626" font-family="'Liberation Serif', 'Times New Roman', serif" font-style="normal">(</text>
<text transform="rotate(-90) translate(-1370.46,83.87) scale(1.0000,1)" font-size="55.45" fill="#262626" font-family="'Liberation Serif', 'Times New Roman', serif" font-style="normal">°</text>
<text transform="rotate(-90) translate(-1346.86,92.36) scale(0.9051,1)" font-size="64.06" fill="#262626" font-family="'Liberation Serif', 'Times New Roman', serif" font-style="normal">)</text>
<rect x="990.5" y="1032.6" width="526.8" height="717.7" fill="none" stroke="#262626" stroke-width="7.0"/>
<line x1="1166.1" y1="1750.3" x2="1166.1" y2="1739.3" stroke="#262626" stroke-width="6.8"/>
<line x1="1166.1" y1="1032.6" x2="1166.1" y2="1043.6" stroke="#262626" stroke-width="6.8"/>
<line x1="1341.7" y1="1750.3" x2="1341.7" y2="1739.3" stroke="#262626" stroke-width="6.8"/>
<line x1="1341.7" y1="1032.6" x2="1341.7" y2="1043.6" stroke="#262626" stroke-width="6.8"/>
<line x1="990.5" y1="1745.2" x2="1001.5" y2="1745.2" stroke="#262626" stroke-width="6.8"/>
<line x1="1517.3" y1="1745.2" x2="1506.3" y2="1745.2" stroke="#262626" stroke-width="6.8"/>
<line x1="990.5" y1="1602.8" x2="1001.5" y2="1602.8" stroke="#262626" stroke-width="6.8"/>
<line x1="1517.3" y1="1602.8" x2="1506.3" y2="1602.8" stroke="#262626" stroke-width="6.8"/>
<line x1="990.5" y1="1460.4" x2="1001.5" y2="1460.4" stroke="#262626" stroke-width="6.8"/>
<line x1="1517.3" y1="1460.4" x2="1506.3" y2="1460.4" stroke="#262626" stroke-width="6.8"/>
<line x1="990.5" y1="1318.0" x2="1001.5" y2="1318.0" stroke="#262626" stroke-width="6.8"/>
<line x1="1517.3" y1="1318.0" x2="1506.3" y2="1318.0" stroke="#262626" stroke-width="6.8"/>
<line x1="990.5" y1="1175.6" x2="1001.5" y2="1175.6" stroke="#262626" stroke-width="6.8"/>
<line x1="1517.3" y1="1175.6" x2="1506.3" y2="1175.6" stroke="#262626" stroke-width="6.8"/>
<text x="975.0" y="1767.2" text-anchor="end" font-size="56.5" fill="#262626" font-family="'Liberation Sans', Arial, Helvetica, sans-serif">0.002</text>
<text transform="translate(791.90,1761.85) scale(0.9297,1)" font-size="46.48" fill="#262626" font-family="'Liberation Sans', Arial, Helvetica, sans-serif" font-style="normal">−</text>
<text x="975.0" y="1624.8" text-anchor="end" font-size="56.5" fill="#262626" font-family="'Liberation Sans', Arial, Helvetica, sans-serif">0</text>
<text x="975.0" y="1482.4" text-anchor="end" font-size="56.5" fill="#262626" font-family="'Liberation Sans', Arial, Helvetica, sans-serif">0.002</text>
<text x="975.0" y="1340.0" text-anchor="end" font-size="56.5" fill="#262626" font-family="'Liberation Sans', Arial, Helvetica, sans-serif">0.004</text>
<text x="975.0" y="1197.6" text-anchor="end" font-size="56.5" fill="#262626" font-family="'Liberation Sans', Arial, Helvetica, sans-serif">0.006</text>
<text x="975.0" y="1055.2" text-anchor="end" font-size="56.5" fill="#262626" font-family="'Liberation Sans', Arial, Helvetica, sans-serif">0.008</text>
<text x="990.5" y="1822.3" text-anchor="middle" font-size="56.5" fill="#262626" font-family="'Liberation Sans', Arial, Helvetica, sans-serif">0</text>
<text x="1166.1" y="1822.3" text-anchor="middle" font-size="56.5" fill="#262626" font-family="'Liberation Sans', Arial, Helvetica, sans-serif">100</text>
<text x="1341.7" y="1822.3" text-anchor="middle" font-size="56.5" fill="#262626" font-family="'Liberation Sans', Arial, Helvetica, sans-serif">200</text>
<text x="1517.3" y="1822.3" text-anchor="middle" font-size="56.5" fill="#262626" font-family="'Liberation Sans', Arial, Helvetica, sans-serif">300</text>
<text x="1253.9" y="1901.3" text-anchor="middle" font-size="62.2" fill="#262626" font-family="'Liberation Sans', Arial, Helvetica, sans-serif">t(s)</text>
<path d="M991.3,1033.0 L991.3,1750.0" fill="none" stroke="#000" stroke-width="8.0" stroke-linejoin="round"/>
<path d="M993.8,1510.0 L993.8,1602.0" fill="none" stroke="#000" stroke-width="8.0" stroke-linejoin="round"/>
<path d="M995.5,1600.0 L995.5,1657.0" fill="none" stroke="#000" stroke-width="8.0" stroke-linejoin="round"/>
<path d="M996.0,1628.5 L997.7,1627.8 L999.5,1627.2 L1001.2,1626.6 L1003.0,1626.1 L1004.7,1625.6 L1006.5,1625.1 L1008.2,1624.6 L1009.9,1624.2 L1011.7,1623.7 L1013.4,1623.3 L1015.2,1622.9 L1016.9,1622.5 L1018.7,1622.0 L1020.4,1621.6 L1022.1,1621.2 L1023.9,1620.8 L1025.6,1620.4 L1027.4,1620.0 L1029.1,1619.6 L1030.8,1619.2 L1032.6,1618.8 L1034.3,1618.3 L1036.1,1617.9 L1037.8,1617.4 L1039.6,1617.0 L1041.3,1616.5 L1043.0,1616.1 L1044.8,1615.6 L1046.5,1615.2 L1048.3,1614.7 L1050.0,1614.2 L1051.8,1613.8 L1053.5,1613.3 L1055.2,1612.9 L1057.0,1612.5 L1058.7,1612.0 L1060.5,1611.6 L1062.2,1611.2 L1064.0,1610.8 L1065.7,1610.4 L1067.4,1610.0 L1069.2,1609.6 L1070.9,1609.2 L1072.7,1608.8 L1074.4,1608.5 L1076.2,1608.1 L1077.9,1607.7 L1079.6,1607.4 L1081.4,1607.0 L1083.1,1606.6 L1084.9,1606.3 L1086.6,1605.9 L1088.4,1605.6 L1090.1,1605.3 L1091.8,1604.9 L1093.6,1604.6 L1095.3,1604.3 L1097.1,1604.0 L1098.8,1603.7 L1100.5,1603.4 L1102.3,1603.1 L1104.0,1602.8 L1105.8,1602.5 L1107.5,1602.2 L1109.3,1602.0 L1111.0,1601.7 L1112.7,1601.5 L1114.5,1601.2 L1116.2,1601.0 L1118.0,1600.8 L1119.7,1600.5 L1121.5,1600.3 L1123.2,1600.1 L1124.9,1599.9 L1126.7,1599.7 L1128.4,1599.5 L1130.2,1599.3 L1131.9,1599.1 L1133.7,1598.9 L1135.4,1598.7 L1137.1,1598.5 L1138.9,1598.4 L1140.6,1598.2 L1142.4,1598.0 L1144.1,1597.8 L1145.9,1597.7 L1147.6,1597.5 L1149.3,1597.3 L1151.1,1597.1 L1152.8,1597.0 L1154.6,1596.8 L1156.3,1596.7 L1158.1,1596.5 L1159.8,1596.4 L1161.5,1596.2 L1163.3,1596.1 L1165.0,1595.9 L1166.8,1595.8 L1168.5,1595.7 L1170.2,1595.6 L1172.0,1595.4 L1173.7,1595.3 L1175.5,1595.2 L1177.2,1595.1 L1179.0,1595.0 L1180.7,1594.9 L1182.4,1594.9 L1184.2,1594.8 L1185.9,1594.7 L1187.7,1594.6 L1189.4,1594.5 L1191.2,1594.4 L1192.9,1594.3 L1194.6,1594.3 L1196.4,1594.2 L1198.1,1594.1 L1199.9,1594.1 L1201.6,1594.0 L1203.4,1593.9 L1205.1,1593.9 L1206.8,1593.8 L1208.6,1593.7 L1210.3,1593.7 L1212.1,1593.6 L1213.8,1593.6 L1215.6,1593.5 L1217.3,1593.5 L1219.0,1593.4 L1220.8,1593.4 L1222.5,1593.3 L1224.3,1593.3 L1226.0,1593.2 L1227.7,1593.2 L1229.5,1593.2 L1231.2,1593.1 L1233.0,1593.1 L1234.7,1593.0 L1236.5,1593.0 L1238.2,1593.0 L1239.9,1592.9 L1241.7,1592.9 L1243.4,1592.9 L1245.2,1592.8 L1246.9,1592.8 L1248.7,1592.8 L1250.4,1592.7 L1252.1,1592.7 L1253.9,1592.7 L1255.6,1592.6 L1257.4,1592.6 L1259.1,1592.6 L1260.9,1592.6 L1262.6,1592.5 L1264.3,1592.5 L1266.1,1592.5 L1267.8,1592.4 L1269.6,1592.4 L1271.3,1592.4 L1273.1,1592.4 L1274.8,1592.3 L1276.5,1592.3 L1278.3,1592.3 L1280.0,1592.3 L1281.8,1592.3 L1283.5,1592.2 L1285.3,1592.2 L1287.0,1592.2 L1288.7,1592.2 L1290.5,1592.2 L1292.2,1592.2 L1294.0,1592.2 L1295.7,1592.2 L1297.4,1592.2 L1299.2,1592.2 L1300.9,1592.1 L1302.7,1592.1 L1304.4,1592.1 L1306.2,1592.1 L1307.9,1592.1 L1309.6,1592.1 L1311.4,1592.1 L1313.1,1592.1 L1314.9,1592.1 L1316.6,1592.1 L1318.4,1592.1 L1320.1,1592.1 L1321.8,1592.1 L1323.6,1592.1 L1325.3,1592.1 L1327.1,1592.1 L1328.8,1592.0 L1330.6,1592.0 L1332.3,1592.0 L1334.0,1592.0 L1335.8,1592.0 L1337.5,1592.0 L1339.3,1592.0 L1341.0,1592.0 L1342.8,1592.0 L1344.5,1592.0 L1346.2,1592.0 L1348.0,1592.0 L1349.7,1592.0 L1351.5,1592.0 L1353.2,1592.0 L1354.9,1592.0 L1356.7,1592.0 L1358.4,1592.0 L1360.2,1592.0 L1361.9,1592.0 L1363.7,1592.0 L1365.4,1592.0 L1367.1,1592.0 L1368.9,1592.0 L1370.6,1592.0 L1372.4,1592.0 L1374.1,1592.0 L1375.9,1592.0 L1377.6,1592.0 L1379.3,1592.0 L1381.1,1592.0 L1382.8,1592.0 L1384.6,1592.0 L1386.3,1592.0 L1388.1,1592.0 L1389.8,1592.0 L1391.5,1592.0 L1393.3,1592.0 L1395.0,1592.0 L1396.8,1592.0 L1398.5,1592.0 L1400.3,1592.0 L1402.0,1592.0 L1403.7,1592.0 L1405.5,1592.0 L1407.2,1592.0 L1409.0,1592.0 L1410.7,1592.0 L1412.5,1592.0 L1414.2,1592.0 L1415.9,1592.0 L1417.7,1592.0 L1419.4,1592.0 L1421.2,1592.0 L1422.9,1592.0 L1424.6,1592.0 L1426.4,1592.0 L1428.1,1592.0 L1429.9,1592.0 L1431.6,1592.0 L1433.4,1592.0 L1435.1,1592.0 L1436.8,1592.0 L1438.6,1592.0 L1440.3,1592.0 L1442.1,1592.0 L1443.8,1592.0 L1445.6,1592.0 L1447.3,1592.0 L1449.0,1592.0 L1450.8,1592.0 L1452.5,1592.0 L1454.3,1592.0 L1456.0,1592.0 L1457.8,1592.0 L1459.5,1592.0 L1461.2,1592.0 L1463.0,1592.0 L1464.7,1592.0 L1466.5,1592.0 L1468.2,1592.0 L1470.0,1592.0 L1471.7,1592.0 L1473.4,1592.0 L1475.2,1592.0 L1476.9,1592.0 L1478.7,1592.0 L1480.4,1592.0 L1482.2,1592.0 L1483.9,1592.0 L1485.6,1592.0 L1487.4,1592.0 L1489.1,1592.0 L1490.9,1592.0 L1492.6,1592.0 L1494.3,1592.0 L1496.1,1592.0 L1497.8,1592.0 L1499.6,1592.0 L1501.3,1592.0 L1503.1,1592.0 L1504.8,1592.0 L1506.5,1592.0 L1508.3,1592.0 L1510.0,1592.0 L1511.8,1592.0 L1513.5,1592.0 L1515.3,1592.0 L1517.0,1592.0" fill="none" stroke="#000" stroke-width="8.0" stroke-linejoin="round"/>
<text transform="rotate(-90) translate(-1440.37,795.26) scale(0.9989,1)" font-size="63.69" fill="#262626" font-family="'Liberation Sans', Arial, Helvetica, sans-serif" font-style="normal">e</text>
<text transform="rotate(-90) translate(-1413.11,828.34) scale(1.0147,1)" font-size="46.30" fill="#262626" font-family="IPAGothic, 'Liberation Serif', serif" font-style="normal">α</text>
<text transform="rotate(-90) translate(-1371.67,794.23) scale(0.9159,1)" font-size="63.73" fill="#262626" font-family="'Liberation Serif', 'Times New Roman', serif" font-style="normal">(</text>
<text transform="rotate(-90) translate(-1350.13,786.19) scale(0.9822,1)" font-size="55.78" fill="#262626" font-family="'Liberation Serif', 'Times New Roman', serif" font-style="normal">°</text>
<text transform="rotate(-90) translate(-1326.67,794.23) scale(0.9159,1)" font-size="63.73" fill="#262626" font-family="'Liberation Serif', 'Times New Roman', serif" font-style="normal">)</text>
<rect x="1817.6" y="1032.6" width="524.7" height="717.7" fill="none" stroke="#262626" stroke-width="7.0"/>
<line x1="1992.5" y1="1750.3" x2="1992.5" y2="1739.3" stroke="#262626" stroke-width="6.8"/>
<line x1="1992.5" y1="1032.6" x2="1992.5" y2="1043.6" stroke="#262626" stroke-width="6.8"/>
<line x1="2167.4" y1="1750.3" x2="2167.4" y2="1739.3" stroke="#262626" stroke-width="6.8"/>
<line x1="2167.4" y1="1032.6" x2="2167.4" y2="1043.6" stroke="#262626" stroke-width="6.8"/>
<line x1="1817.6" y1="1571.6" x2="1828.6" y2="1571.6" stroke="#262626" stroke-width="6.8"/>
<line x1="2342.3" y1="1571.6" x2="2331.3" y2="1571.6" stroke="#262626" stroke-width="6.8"/>
<line x1="1817.6" y1="1392.0" x2="1828.6" y2="1392.0" stroke="#262626" stroke-width="6.8"/>
<line x1="2342.3" y1="1392.0" x2="2331.3" y2="1392.0" stroke="#262626" stroke-width="6.8"/>
<line x1="1817.6" y1="1212.4" x2="1828.6" y2="1212.4" stroke="#262626" stroke-width="6.8"/>
<line x1="2342.3" y1="1212.4" x2="2331.3" y2="1212.4" stroke="#262626" stroke-width="6.8"/>
<text x="1801.0" y="1773.2" text-anchor="end" font-size="56.5" fill="#262626" font-family="'Liberation Sans', Arial, Helvetica, sans-serif">0.0004</text>
<text transform="translate(1586.47,1767.85) scale(0.9297,1)" font-size="46.48" fill="#262626" font-family="'Liberation Sans', Arial, Helvetica, sans-serif" font-style="normal">−</text>
<text x="1801.0" y="1593.6" text-anchor="end" font-size="56.5" fill="#262626" font-family="'Liberation Sans', Arial, Helvetica, sans-serif">0.0002</text>
<text transform="translate(1586.47,1588.25) scale(0.9297,1)" font-size="46.48" fill="#262626" font-family="'Liberation Sans', Arial, Helvetica, sans-serif" font-style="normal">−</text>
<text x="1801.0" y="1414.0" text-anchor="end" font-size="56.5" fill="#262626" font-family="'Liberation Sans', Arial, Helvetica, sans-serif">0</text>
<text x="1801.0" y="1234.4" text-anchor="end" font-size="56.5" fill="#262626" font-family="'Liberation Sans', Arial, Helvetica, sans-serif">0.0002</text>
<text x="1801.0" y="1054.8" text-anchor="end" font-size="56.5" fill="#262626" font-family="'Liberation Sans', Arial, Helvetica, sans-serif">0.0004</text>
<text x="1817.6" y="1822.3" text-anchor="middle" font-size="56.5" fill="#262626" font-family="'Liberation Sans', Arial, Helvetica, sans-serif">0</text>
<text x="1992.5" y="1822.3" text-anchor="middle" font-size="56.5" fill="#262626" font-family="'Liberation Sans', Arial, Helvetica, sans-serif">100</text>
<text x="2167.4" y="1822.3" text-anchor="middle" font-size="56.5" fill="#262626" font-family="'Liberation Sans', Arial, Helvetica, sans-serif">200</text>
<text x="2342.3" y="1822.3" text-anchor="middle" font-size="56.5" fill="#262626" font-family="'Liberation Sans', Arial, Helvetica, sans-serif">300</text>
<text x="2079.9" y="1901.3" text-anchor="middle" font-size="62.2" fill="#262626" font-family="'Liberation Sans', Arial, Helvetica, sans-serif">t(s)</text>
<path d="M1817.7,1039.0 L1817.7,1684.0" fill="none" stroke="#000" stroke-width="8.0" stroke-linejoin="round"/>
<path d="M1820.5,1296.0 L1820.8,1440.0" fill="none" stroke="#000" stroke-width="8.0" stroke-linejoin="round"/>
<path d="M1820.0,1391.9 L2342.3,1391.9" fill="none" stroke="#000" stroke-width="8.0" stroke-linejoin="round"/>
<text transform="rotate(-90) translate(-1505.73,1607.46) scale(1.0132,1)" font-size="64.05" fill="#262626" font-family="'Liberation Sans', Arial, Helvetica, sans-serif" font-style="normal">e</text>
<text transform="rotate(-90) translate(-1469.05,1629.90) scale(1.1176,1)" font-size="42.84" fill="#262626" font-family="'Liberation Sans', Arial, Helvetica, sans-serif" font-style="normal">Q</text>
<text transform="translate(1606.6,1429.1) rotate(-90)" font-size="62.2" fill="#262626" font-family="'Liberation Sans', Arial, Helvetica, sans-serif">(rad/s)</text>
</svg>
</body></html>
